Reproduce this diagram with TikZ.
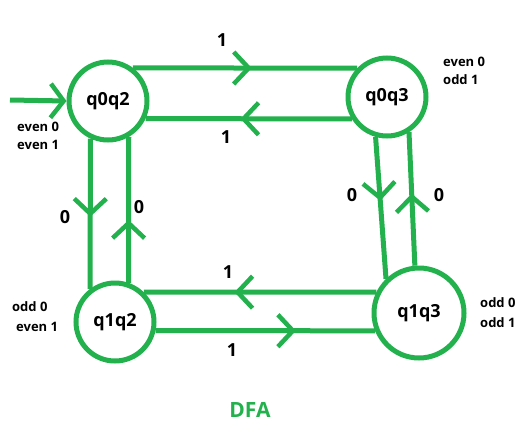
\documentclass[tikz,border=0pt]{standalone}
\usepackage{fontspec}
\setmainfont{Open Sans}
\usetikzlibrary{arrows.meta,decorations.markings}
\definecolor{pgreen}{HTML}{22B14C}
\tikzset{
  chev/.tip={Straight Barb[length=15pt,width=32pt,line width=4.5pt]},
  state/.style={circle,draw=pgreen,line width=5pt,minimum size=78pt,inner sep=0pt,
    font=\fontsize{18}{20}\selectfont\bfseries},
  conn/.style={draw=pgreen,line width=5pt},
  midarr/.style={postaction={decorate,decoration={markings,
    mark=at position #1 with {\arrow{chev}}}}},
  elab/.style={font=\fontsize{18}{20}\selectfont\bfseries},
  slab/.style={font=\fontsize{13}{18}\selectfont\bfseries,anchor=west,inner sep=0pt},
}
\begin{document}
\begin{tikzpicture}[x=1pt,y=-1pt]
\useasboundingbox (0,0) rectangle (529,431);
\node[state] (A) at (108,101) {q0q2};
\node[state] (B) at (387,97) {q0q3};
\node[state] (C) at (115,322) {q1q2};
\node[state,minimum size=90pt] (D) at (419,313) {q1q3};
\coordinate (S) at (10,100);
% start
\draw[conn,-{Straight Barb[length=13pt,width=34pt,line width=4.5pt]}] (S) -- (A.west);
% top
\draw[conn,midarr=0.53] (A.53) -- (B.136);
\draw[conn,midarr=0.54] (B.212) -- (A.-25);
% left vertical
\draw[conn,midarr=0.52] (A.245) -- (C.127);
\draw[conn,midarr=0.43] (C.71) -- (A.300);
% right vertical
\draw[conn,midarr=0.45] (B.254) -- (D.134);
\draw[conn,midarr=0.54] (D.95) -- (B.302);
% bottom
\draw[conn,midarr=0.61] (D.154) -- (C.46);
\draw[conn,midarr=0.64] (C.-12) -- (D.202);
% edge labels
\node[elab] (l1) at (222,40) {1};
\node[elab] (l2) at (226,137) {1};
\node[elab] (l3) at (228,272) {1};
\node[elab] (l4) at (232,350) {1};
\node[elab] (l5) at (65,217) {0};
\node[elab] (l6) at (139,207) {0};
\node[elab] (l7) at (352,195) {0};
\node[elab] (l8) at (439,195) {0};
% side labels
\node[slab] (sa1) at (17,127) {even 0};
\node[slab] (sa2) at (17,145) {even 1};
\node[slab] (sb1) at (443,62) {even 0};
\node[slab] (sb2) at (443,80) {odd 1};
\node[slab] (sc1) at (12,307) {odd 0};
\node[slab] (sc2) at (16,327) {even 1};
\node[slab] (sd1) at (480,303) {odd 0};
\node[slab] (sd2) at (480,323) {odd 1};
\node[font=\fontsize{21}{24}\selectfont\bfseries,text=pgreen] (title) at (250,410) {DFA};
\end{tikzpicture}
\end{document}
